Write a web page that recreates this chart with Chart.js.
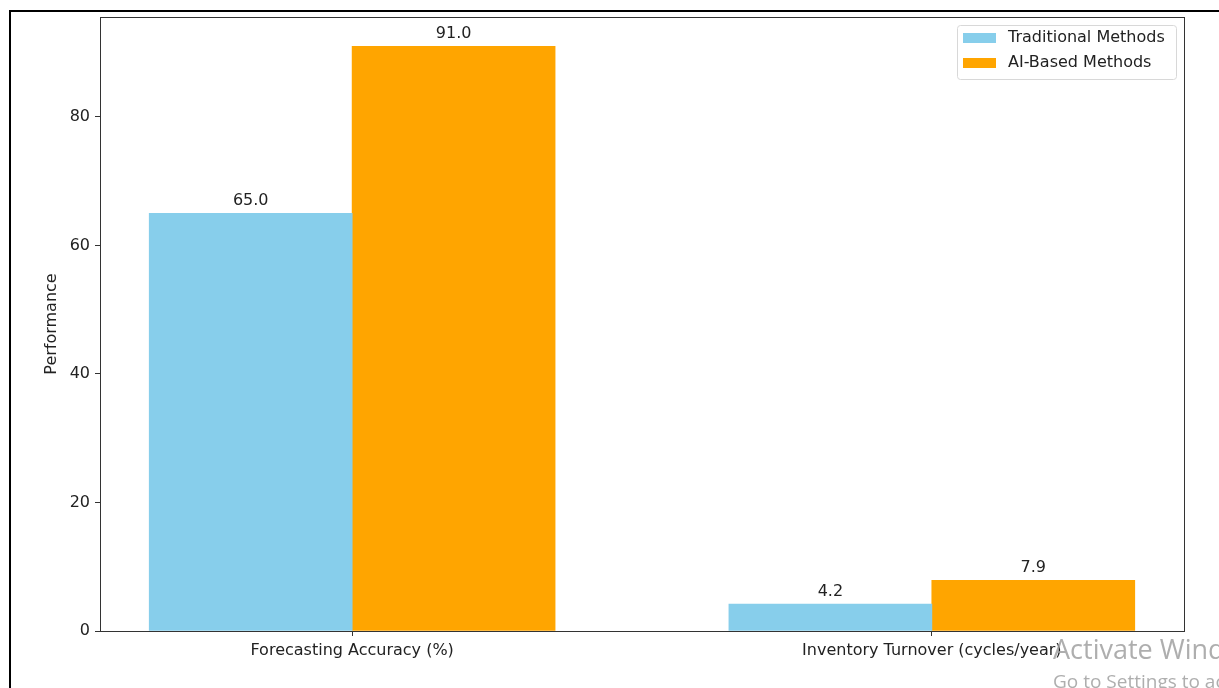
<!DOCTYPE html>
<html>
<head>
<meta charset="utf-8">
<script src="https://cdn.jsdelivr.net/npm/chart.js@4.4.1/dist/chart.umd.min.js"></script>
<style>
  html, body { margin: 0; padding: 0; background: #fff; overflow: hidden; }
  #wrap { position: relative; width: 1219px; height: 688px; overflow: hidden; }
  #frame { position: absolute; left: 9px; top: 10px; width: 1300px; height: 800px;
           border-left: 2px solid #000; border-top: 2px solid #000; }
  canvas { position: absolute; left: 0; top: 0; }
  .wm { position: absolute; color: rgba(160,160,160,0.85); font-family: "Open Sans", "Noto Sans", sans-serif; white-space: nowrap; }
</style>
</head>
<body>
<div id="wrap">
  <div id="frame"></div>
  <canvas id="grafica" width="1219" height="688"></canvas>
  <div class="wm" style="left:1053px; top:630px; font-size:27px;">Activate Windows</div>
  <div class="wm" style="left:1053px; top:668px; font-size:19px;">Go to Settings to activate Windows.</div>
</div>
<script>
const categories = ['Forecasting Accuracy (%)', 'Inventory Turnover (cycles/year)'];
const seriesNames = ['Traditional Methods', 'AI-Based Methods'];
const traditional = [65.0, 4.2];
const aiBased = [91.0, 7.9];
const yTicks = [0, 20, 40, 60, 80];

const colors = ['#87CEEB', '#FFA500'];
const barWidth = 0.35;
const font = "'DejaVu Sans', sans-serif";
const fontSize = 16;
const ink = '#222';

// bars sit side by side around each category position, matplotlib style
const toPoints = (vals, shift) => vals.map((v, i) => ({ x: i + shift, y: v }));

const graph = document.querySelector('#grafica');

const boxPlugin = {
  id: 'box',
  afterDraw(chart) {
    const { ctx, chartArea: a } = chart;
    ctx.save();
    ctx.strokeStyle = '#333';
    ctx.lineWidth = 1;
    ctx.strokeRect(a.left + 0.5, a.top + 0.5, a.right - a.left, a.bottom - a.top);
    ctx.restore();
  }
};

const barLabels = {
  id: 'barLabels',
  afterDatasetsDraw(chart) {
    const { ctx } = chart;
    ctx.save();
    ctx.font = fontSize + 'px ' + font;
    ctx.fillStyle = ink;
    ctx.textAlign = 'center';
    ctx.textBaseline = 'alphabetic';
    chart.data.datasets.forEach((ds, di) => {
      chart.getDatasetMeta(di).data.forEach((el, i) => {
        ctx.fillText(ds.data[i].y.toFixed(1), el.x, el.y - 8);
      });
    });
    ctx.restore();
  }
};

const legendBox = {
  id: 'legendBox',
  afterDraw(chart) {
    const { ctx } = chart;
    const x = 957, y = 25, w = 219, h = 54;
    ctx.save();
    ctx.fillStyle = 'rgba(255,255,255,0.8)';
    ctx.strokeStyle = '#d8d8d8';
    ctx.lineWidth = 1;
    ctx.beginPath();
    ctx.roundRect(x + 0.5, y + 0.5, w, h, 3);
    ctx.fill();
    ctx.stroke();
    ctx.font = fontSize + 'px ' + font;
    ctx.textBaseline = 'middle';
    chart.data.datasets.forEach((ds, i) => {
      const cy = y + 13 + i * 25;
      ctx.fillStyle = ds.backgroundColor;
      ctx.fillRect(x + 6, cy - 5, 33, 10);
      ctx.fillStyle = ink;
      ctx.fillText(ds.label, x + 51, cy);
    });
    ctx.restore();
  }
};

const data = {
  datasets: [
    { label: seriesNames[0], data: toPoints(traditional, -barWidth / 2), backgroundColor: colors[0] },
    { label: seriesNames[1], data: toPoints(aiBased, barWidth / 2), backgroundColor: colors[1] }
  ]
};

const config = {
  type: 'bar',
  data: data,
  options: {
    responsive: false,
    animation: false,
    layout: { padding: { top: 17, right: 35, left: 0, bottom: 0 } },
    datasets: { bar: { grouped: false, barThickness: 203, borderWidth: 0 } },
    plugins: { legend: { display: false }, tooltip: { enabled: false } },
    scales: {
      x: {
        type: 'linear',
        offset: false,
        min: -0.435,
        max: 1.435,
        afterBuildTicks: s => { s.ticks = categories.map((c, i) => ({ value: i })); },
        afterFit: s => { s.height = 57; },
        ticks: { callback: v => categories[v], color: ink, font: { family: font, size: fontSize }, padding: 5, maxRotation: 0, autoSkip: false },
        grid: { offset: false, drawOnChartArea: false, tickLength: 5, color: '#333' },
        border: { color: '#333' }
      },
      y: {
        min: 0,
        max: 95.55,
        afterBuildTicks: s => { s.ticks = yTicks.map(v => ({ value: v })); },
        afterFit: s => { s.width = 100; },
        ticks: { color: ink, font: { family: font, size: fontSize }, padding: 5 },
        grid: { drawOnChartArea: false, tickLength: 5, color: '#333' },
        border: { color: '#333' },
        title: { display: true, text: 'Performance', color: ink, font: { family: font, size: fontSize }, padding: { top: 42, bottom: 0 } }
      }
    }
  },
  plugins: [boxPlugin, barLabels, legendBox]
};

new Chart(graph, config);
</script>
</body>
</html>
